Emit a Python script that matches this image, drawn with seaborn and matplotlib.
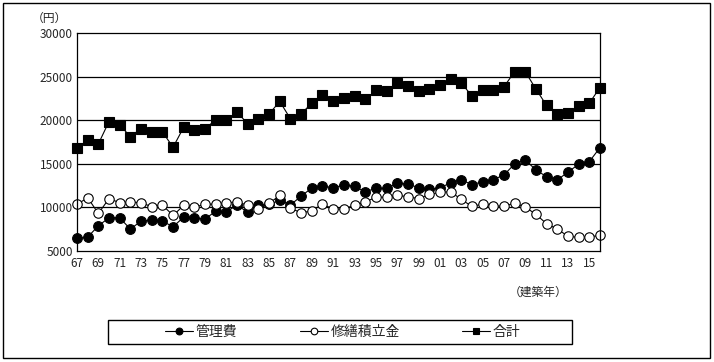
import matplotlib
matplotlib.use("Agg")
import matplotlib.pyplot as plt
from matplotlib.patches import Rectangle
import seaborn as sns
import pandas as pd

# 建築年 1967-2016
years = list(range(1967, 2017))

kanrihi = [6440, 6590, 7890, 8810, 8810, 7510, 8430, 8540, 8430, 7780,
           8890, 8810, 8660, 9580, 9500, 10270, 9430, 10270, 10350, 10800,
           10270, 11300, 12220, 12490, 12220, 12600, 12410, 11800, 12180, 12180,
           12760, 12680, 12260, 12070, 12220, 12830, 13180, 12600, 12950, 13180,
           13720, 14980, 15440, 14290, 13520, 13140, 14060, 14940, 15250, 16860]

shuzen = [10345, 11110, 9310, 11000, 10540, 10610, 10540, 10080, 10270, 9080,
          10230, 10040, 10350, 10380, 10500, 10650, 10230, 9770, 10460, 11380,
          9890, 9390, 9580, 10380, 9810, 9810, 10270, 10580, 11190, 11150,
          11380, 11230, 11000, 11490, 11720, 11800, 10920, 10110, 10380, 10190,
          10110, 10500, 10040, 9200, 8120, 7510, 6700, 6550, 6630, 6780]

goukei = [16800, 17740, 17280, 19850, 19460, 18120, 19040, 18660, 18660, 16900,
          19200, 18890, 19040, 20040, 20040, 20920, 19580, 20150, 20730, 22150,
          20150, 20730, 21960, 22870, 22150, 22490, 22800, 22380, 23410, 23330,
          24210, 23950, 23370, 23600, 24020, 24750, 24250, 22800, 23410, 23520,
          23830, 25560, 25560, 23560, 21690, 20730, 20840, 21610, 21950, 23750]

series_names = ["管理費", "修繕積立金", "合計"]
tick_years = list(range(1967, 2017, 2))
tick_labels = [f"{y % 100:02d}" for y in tick_years]
y_ticks = [5000, 10000, 15000, 20000, 25000, 30000]

df = pd.DataFrame({"year": years, "管理費": kanrihi,
                   "修繕積立金": shuzen, "合計": goukei})

sns.set_style("white")
plt.rcParams["font.family"] = ["Noto Sans CJK JP", "DejaVu Sans"]

W, H = 714, 362
fig = plt.figure(figsize=(W / 100, H / 100), dpi=100)
ax = fig.add_axes([77 / W, 1 - 251 / H, 523 / W, 218 / H])

styles = {
    "管理費": dict(marker="o", markerfacecolor="black", markersize=7),
    "修繕積立金": dict(marker="o", markerfacecolor="white", markersize=6.8),
    "合計": dict(marker="s", markerfacecolor="black", markersize=7),
}
for name in series_names:
    sns.lineplot(data=df, x="year", y=name, ax=ax, color="black", lw=0.8,
                 markeredgecolor="black", markeredgewidth=0.8,
                 label=name, clip_on=False, **styles[name])

ax.set_xlim(1967, 2016)
ax.set_ylim(5000, 30000)
ax.set_yticks(y_ticks)
ax.set_yticklabels([str(v) for v in y_ticks], fontsize=8.5)
ax.set_xticks(tick_years)
ax.set_xticklabels(tick_labels, fontsize=8.5)
ax.set_xticks(years, minor=True)
ax.tick_params(axis="x", which="both", direction="in", length=4, width=0.8,
               color="black", pad=4)
ax.tick_params(axis="y", length=0, pad=3)
ax.set_xlabel("")
ax.set_ylabel("")
ax.grid(False)
for v in y_ticks[1:-1]:
    ax.axhline(v, color="black", lw=0.9, zorder=0)
for s in ax.spines.values():
    s.set_color("black")
    s.set_linewidth(0.9)

ax.get_legend().remove()
handles, labels = ax.get_legend_handles_labels()
fig.legend(handles, labels, loc="center", ncol=3,
           bbox_to_anchor=(343 / W, 1 - 332 / H), frameon=False,
           fontsize=10, handlelength=2.0, handletextpad=0.2,
           columnspacing=4.5, markerscale=0.7)

# legend box and outer frame
fig.patches.append(Rectangle((108 / W, 1 - 344 / H), 464 / W, 24 / H,
                             transform=fig.transFigure, fill=False,
                             edgecolor="black", lw=1.0))
fig.patches.append(Rectangle((3 / W, 1 - 358 / H), 707 / W, 355 / H,
                             transform=fig.transFigure, fill=False,
                             edgecolor="black", lw=1.0))

fig.text(49 / W, 1 - 18 / H, "（円）", fontsize=8.5, ha="center", va="center")
fig.text(538 / W, 1 - 292 / H, "（建築年）", fontsize=8.5, ha="center",
         va="center")

fig.savefig("out.png", dpi=100)
